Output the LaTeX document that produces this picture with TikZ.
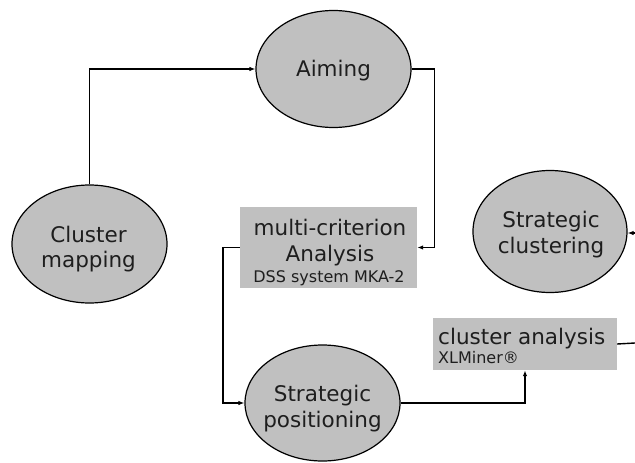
\documentclass[tikz,border=0pt]{standalone}
\usepackage{fontspec}
\setmainfont{DejaVu Sans}
\usetikzlibrary{shapes.geometric,arrows.meta}
\definecolor{boxgray}{RGB}{192,192,192}
\definecolor{inkgray}{RGB}{30,30,30}
\tikzset{
  stage/.style={ellipse, draw=black, line width=1.2pt, fill=boxgray,
    inner sep=0pt, minimum width=155pt, minimum height=117pt},
  toolbox/.style={rectangle, fill=boxgray, inner sep=0pt},
  bigtext/.style={anchor=base, inner sep=0pt, text=inkgray,
    font=\fontsize{21.5}{25}\selectfont},
  smalltext/.style={anchor=base, inner sep=0pt, text=inkgray,
    font=\fontsize{16}{19}\selectfont},
  link/.style={draw=black, line width=1.4pt,
    -{Latex[length=6pt,width=4.5pt]}},
  plain/.style={draw=black, line width=1.4pt}
}
\begin{document}
\begin{tikzpicture}[x=1pt,y=-1pt]
  \useasboundingbox (0,0) rectangle (635,463);

  % process stages
  \node[stage] (aim) at (333.5,69)  {};
  \node[stage, minimum height=118pt] (cm) at (89.5,244) {};
  \node[stage, minimum height=116pt] (sp) at (322.5,403) {};
  \node[stage, minimum width=154pt, minimum height=122pt] (sc) at (550,231.5) {};

  \node[bigtext] (aimA) at (333.5,76) {Aiming};
  \node[bigtext] (cmA)  at (88.5,242) {Cluster};
  \node[bigtext] (cmB)  at (88.5,267) {mapping};
  \node[bigtext] (spA)  at (322.5,401) {Strategic};
  \node[bigtext] (spB)  at (322.5,427) {positioning};
  \node[bigtext] (scA)  at (551,227) {Strategic};
  \node[bigtext] (scB)  at (551,253) {clustering};

  % tool boxes
  \node[toolbox, minimum width=177pt, minimum height=81pt] (mca) at (328.5,247.5) {};
  \node[bigtext]   (mcaA) at (330,235) {multi-criterion};
  \node[bigtext]   (mcaB) at (330,261) {Analysis};
  \node[smalltext] (mcaC) at (329,282) {DSS system MKA-2};

  \node[toolbox, minimum width=184pt, minimum height=52pt] (ca) at (525,344) {};
  \node[bigtext, anchor=base west]   (caA) at (438,344) {cluster analysis};
  \node[smalltext, anchor=base west] (caB) at (438,363) {XLMiner\textregistered};

  % free ends at the right margin
  \coordinate (outR) at (635,343);
  \coordinate (inR)  at (635,233);

  % connectors
  \draw[link] (cm.north) |- (aim.west);
  \draw[link] (aim.east) -- ++(23,0) |- (mca.east);
  \draw[link] (mca.west) -- ++(-17,0) |- (sp.west);
  \draw[link] (sp.east) -| (ca.south);
  \draw[plain] (ca.east) -- (outR);
  \draw[link] (inR) -- (sc.east |- inR);
\end{tikzpicture}
\end{document}
